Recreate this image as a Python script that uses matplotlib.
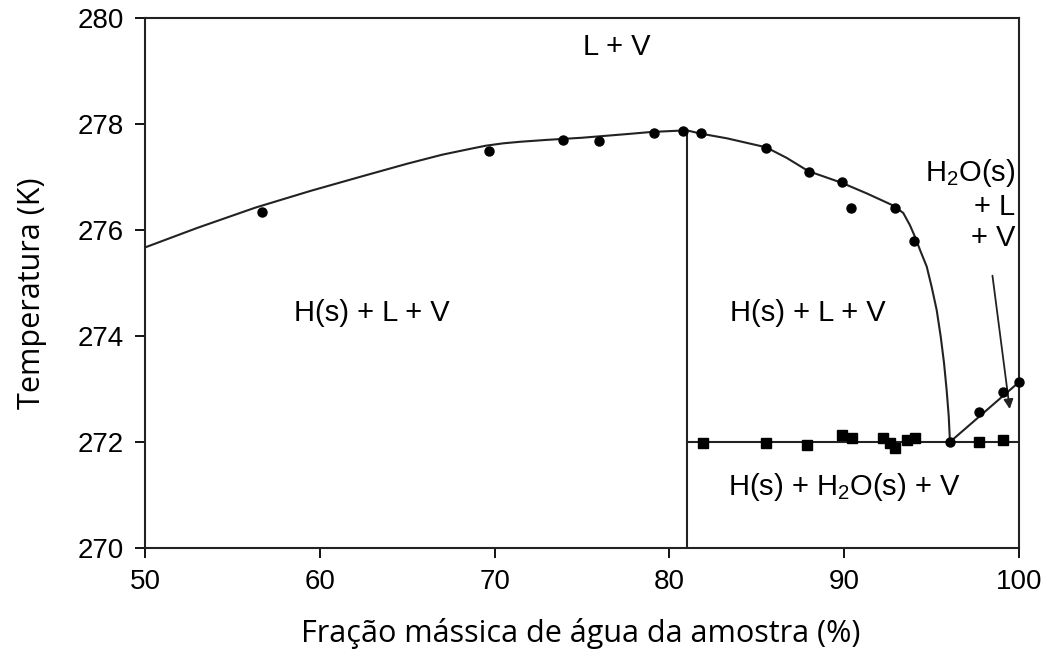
import numpy as np
import matplotlib
matplotlib.use("Agg")
import matplotlib.pyplot as plt

plt.rcParams['font.family'] = ['Liberation Sans', 'DejaVu Sans']
plt.rcParams['mathtext.default'] = 'regular'

# pontos experimentais (círculos): equilíbrio com líquido
circ_x = [56.7, 69.7, 73.9, 76.0, 79.1, 80.8, 81.8, 85.5, 88.0, 89.9, 90.4,
          92.9, 94.0, 96.05, 97.7, 99.1, 100.0]
circ_y = [276.34, 277.49, 277.70, 277.68, 277.83, 277.87, 277.83, 277.55,
          277.09, 276.91, 276.42, 276.42, 275.79, 272.0, 272.57, 272.94, 273.13]

# pontos experimentais (quadrados): H(s) + H2O(s) + V
sq_x = [81.9, 85.5, 87.9, 89.9, 90.45, 92.2, 92.6, 92.9, 93.6, 94.05, 97.7, 99.1]
sq_y = [271.98, 271.98, 271.94, 272.13, 272.08, 272.08, 271.98, 271.89,
        272.04, 272.08, 272.0, 272.04]

# curvas
curve_left_x = [50.0, 53.0, 56.3, 59.5, 62.5, 65.0, 67.0, 68.6, 69.5, 70.5,
                71.5, 73.0, 75.0, 77.6, 79.0, 81.0]
curve_left_y = [275.67, 276.04, 276.42, 276.74, 277.02, 277.25, 277.42, 277.53,
                277.59, 277.635, 277.665, 277.70, 277.74, 277.81, 277.85, 277.88]
curve_right_x = [81.0, 81.75, 83.28, 85.53, 86.71, 87.95, 89.86, 91.29, 92.81,
                 93.38, 93.76, 94.05, 94.34, 94.72, 95.0, 95.29, 95.52, 95.71,
                 95.86, 95.98, 96.05]
curve_right_y = [277.88, 277.82, 277.73, 277.56, 277.36, 277.11, 276.89, 276.69,
                 276.46, 276.32, 276.09, 275.87, 275.62, 275.31, 274.93, 274.49,
                 273.99, 273.49, 272.98, 272.48, 272.0]
water_x = [96.05, 100.0]
water_y = [272.0, 273.13]
eutetic_T = 272.0
vert_x = 81.0

fig = plt.figure(figsize=(10.46, 6.63), dpi=100)
ax = fig.add_axes([0.1386, 0.1735, 0.8356, 0.7994])

lc = '#222222'
ax.plot(curve_left_x, curve_left_y, color=lc, lw=1.5, solid_joinstyle='round')
ax.plot(curve_right_x, curve_right_y, color=lc, lw=1.5, solid_joinstyle='round')
ax.plot(water_x, water_y, color=lc, lw=1.5)
ax.plot([vert_x, 100], [eutetic_T, eutetic_T], color=lc, lw=1.5)
ax.plot([vert_x, vert_x], [270, curve_left_y[-1]], color=lc, lw=1.5)

ax.plot(circ_x, circ_y, 'o', color='black', ms=6.5, clip_on=False, zorder=5)
ax.plot(sq_x, sq_y, 's', color='black', ms=6.5, clip_on=False, zorder=5)

ax.annotate('', xy=(99.49, 272.57), xytext=(98.46, 275.19),
            arrowprops=dict(arrowstyle='-|>', color=lc, lw=1.3,
                            mutation_scale=14))

fs = 21
ax.text(77.0, 279.45, 'L + V', fontsize=fs, ha='center', va='center')
ax.text(63.0, 274.43, 'H(s) + L + V', fontsize=fs, ha='center', va='center')
ax.text(87.9, 274.43, 'H(s) + L + V', fontsize=fs, ha='center', va='center')
ax.text(90.0, 271.15, 'H(s) + H$_2$O(s) + V', fontsize=fs, ha='center', va='center')
ax.text(99.8, 276.48, 'H$_2$O(s)\n+ L\n+ V', fontsize=fs, ha='right', va='center',
        linespacing=1.15)

ax.set_xlim(50, 100)
ax.set_ylim(270, 280)
ax.set_xticks([50, 60, 70, 80, 90, 100])
ax.set_yticks([270, 272, 274, 276, 278, 280])
ax.tick_params(direction='out', length=7, width=1.3, labelsize=20, pad=8,
               colors='black')
for s in ax.spines.values():
    s.set_linewidth(1.5)
    s.set_color(lc)

lab_font = ['Open Sans', 'DejaVu Sans']
ax.set_xlabel('Fração mássica de água da amostra (%)', fontsize=22,
              family=lab_font)
ax.set_ylabel('Temperatura (K)', fontsize=22, family=lab_font)
ax.xaxis.set_label_coords(0.498, -0.132)
ax.yaxis.set_label_coords(-0.112, 0.481)

fig.savefig('out.png', dpi=100)
